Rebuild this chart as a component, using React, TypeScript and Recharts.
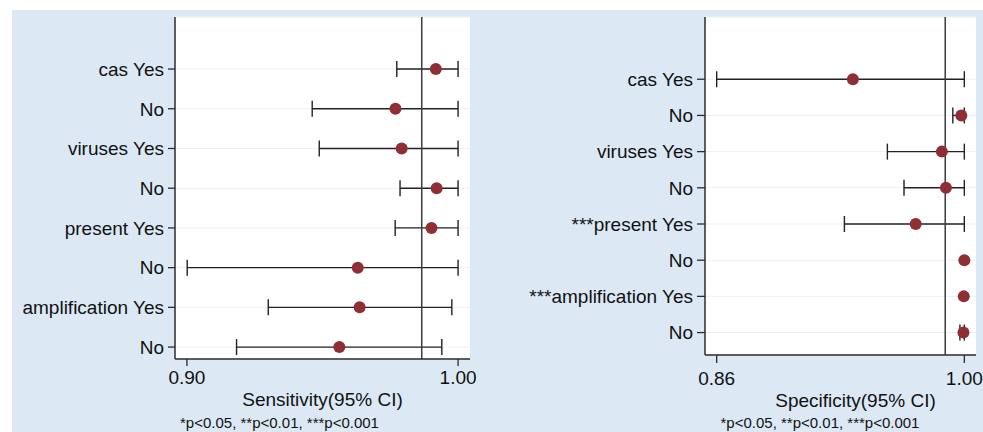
import React from 'react';
import {
  ScatterChart,
  Scatter,
  XAxis,
  YAxis,
  CartesianGrid,
  ErrorBar,
  ReferenceLine,
  ReferenceDot,
} from 'recharts';

// row labels, top to bottom
const sensLabels = ['cas Yes', 'No', 'viruses Yes', 'No', 'present Yes', 'No', 'amplification Yes', 'No'];
const specLabels = ['cas Yes', 'No', 'viruses Yes', 'No', '***present Yes', 'No', '***amplification Yes', 'No'];

// sensitivity estimate with 95% CI
const sensEst = [0.9918, 0.9769, 0.9792, 0.9921, 0.9902, 0.963, 0.9637, 0.9562];
const sensLow = [0.9774, 0.9462, 0.9488, 0.9786, 0.9768, 0.9001, 0.93, 0.9183];
const sensHigh = [1.0, 1.0, 1.0, 1.0, 1.0, 1.0, 0.9977, 0.994];
const sensPooled = 0.9866;
const sensTicks = [0.9, 1.0];

// specificity estimate with 95% CI
const specEst = [0.937, 0.9983, 0.9873, 0.9896, 0.9725, 1.0, 0.9997, 0.9995];
const specLow = [0.86, 0.9935, 0.9565, 0.9659, 0.9322, 1.0, 0.9997, 0.9975];
const specHigh = [1.0, 1.0, 1.0, 1.0, 1.0, 1.0, 1.0, 1.0];
const specPooled = 0.9892;
const specTicks = [0.86, 1.0];

const rowTicks = [1, 2, 3, 4, 5, 6, 7, 8];
const FONT = '"Liberation Sans", Arial, Helvetica, sans-serif';
const DOT = '#8f2f35';
const INK = '#2b2b2b';

function buildRows(est: number[], low: number[], high: number[]) {
  return est.map((v, i) => ({
    x: v,
    y: est.length - i,
    // a CI that collapses onto the estimate has no whisker to draw
    err: high[i] - low[i] < 0.0005 ? null : [v - low[i], high[i] - v],
  }));
}

const sensRows = buildRows(sensEst, sensLow, sensHigh);
const specRows = buildRows(specEst, specLow, specHigh);

const noDot = () => <g />;

interface ForestProps {
  rows: { x: number; y: number; err: number[] | null }[];
  labels: string[];
  pooled: number;
  ticks: number[];
  xDomain: [number, number];
  yDomain: [number, number];
  title: string;
  width: number;
  yAxisWidth: number;
  xAxisHeight: number;
  rightMargin: number;
  yTickSize: number;
  xTickSize: number;
  xTickMargin: number;
  titleDx: number;
  titleOffset: number;
}

function ForestPanel(p: ForestProps) {
  return (
    <ScatterChart
      width={p.width}
      height={432}
      margin={{ top: 17, right: p.rightMargin, bottom: 0, left: 0 }}
    >
      <CartesianGrid vertical={false} stroke="#e9f1f3" fill="#ffffff" fillOpacity={1} />
      <XAxis
        type="number"
        dataKey="x"
        domain={p.xDomain}
        ticks={p.ticks}
        allowDataOverflow
        height={p.xAxisHeight}
        tickFormatter={(v: number) => v.toFixed(2)}
        tick={{ fill: '#111', fontSize: 19, fontFamily: FONT }}
        tickSize={p.xTickSize}
        tickMargin={p.xTickMargin}
        axisLine={{ stroke: INK, strokeWidth: 1.5 }}
        tickLine={{ stroke: INK, strokeWidth: 1.3 }}
        label={{
          value: p.title,
          position: 'insideBottom',
          offset: p.titleOffset,
          dx: p.titleDx,
          fill: '#111',
          fontSize: 19,
          fontFamily: FONT,
        }}
      />
      <YAxis
        type="number"
        dataKey="y"
        domain={p.yDomain}
        ticks={rowTicks}
        allowDataOverflow
        width={p.yAxisWidth}
        tickFormatter={(v: number) => p.labels[p.labels.length - v]}
        tick={{ fill: '#111', fontSize: 19, fontFamily: FONT }}
        tickSize={p.yTickSize}
        tickMargin={4}
        axisLine={{ stroke: INK, strokeWidth: 1.5 }}
        tickLine={{ stroke: INK, strokeWidth: 1.3 }}
      />
      {/* CI whiskers */}
      <Scatter data={p.rows} shape={noDot} isAnimationActive={false}>
        <ErrorBar dataKey="err" direction="x" width={8} stroke="#222" strokeWidth={1.4} />
      </Scatter>
      <ReferenceLine x={p.pooled} stroke="#3c3c3c" strokeWidth={1.5} />
      {/* point estimates, drawn last so they sit on top */}
      {p.rows.map((r) => (
        <ReferenceDot key={r.y} x={r.x} y={r.y} r={6} fill={DOT} stroke="none" ifOverflow="visible" />
      ))}
    </ScatterChart>
  );
}

const noteStyle: React.CSSProperties = {
  position: 'absolute',
  top: 415,
  width: 300,
  textAlign: 'center',
  fontSize: 15,
  lineHeight: '15px',
  color: '#111',
  fontFamily: FONT,
  whiteSpace: 'nowrap',
};

export default function App() {
  return (
    <div
      style={{
        position: 'absolute',
        left: 0,
        top: 0,
        width: 983,
        height: 432,
        background: '#ffffff',
        fontFamily: FONT,
        overflow: 'hidden',
      }}
    >
      <div style={{ position: 'absolute', left: 12, top: 10, width: 971, height: 422, background: '#dce9f5' }} />
      <div style={{ position: 'absolute', left: 0, top: 0 }}>
        <ForestPanel
          rows={sensRows}
          labels={sensLabels}
          pooled={sensPooled}
          ticks={sensTicks}
          xDomain={[0.8956, 1.0044]}
          yDomain={[0.7, 9.31]}
          title="Sensitivity(95% CI)"
          width={490}
          yAxisWidth={175}
          xAxisHeight={73}
          rightMargin={20}
          yTickSize={7}
          xTickSize={7}
          xTickMargin={5}
          titleDx={0}
          titleOffset={26}
        />
      </div>
      <div style={{ position: 'absolute', left: 490, top: 0 }}>
        <ForestPanel
          rows={specRows}
          labels={specLabels}
          pooled={specPooled}
          ticks={specTicks}
          xDomain={[0.8534, 1.0066]}
          yDomain={[0.38, 9.72]}
          title="Specificity(95% CI)"
          width={493}
          yAxisWidth={215}
          xAxisHeight={77}
          rightMargin={7}
          yTickSize={8}
          xTickSize={8}
          xTickMargin={9}
          titleDx={15}
          titleOffset={25}
        />
      </div>
      <div style={{ ...noteStyle, left: 279.5 - 150 }}>*p&lt;0.05, **p&lt;0.01, ***p&lt;0.001</div>
      <div style={{ ...noteStyle, left: 820 - 150 }}>*p&lt;0.05, **p&lt;0.01, ***p&lt;0.001</div>
    </div>
  );
}
